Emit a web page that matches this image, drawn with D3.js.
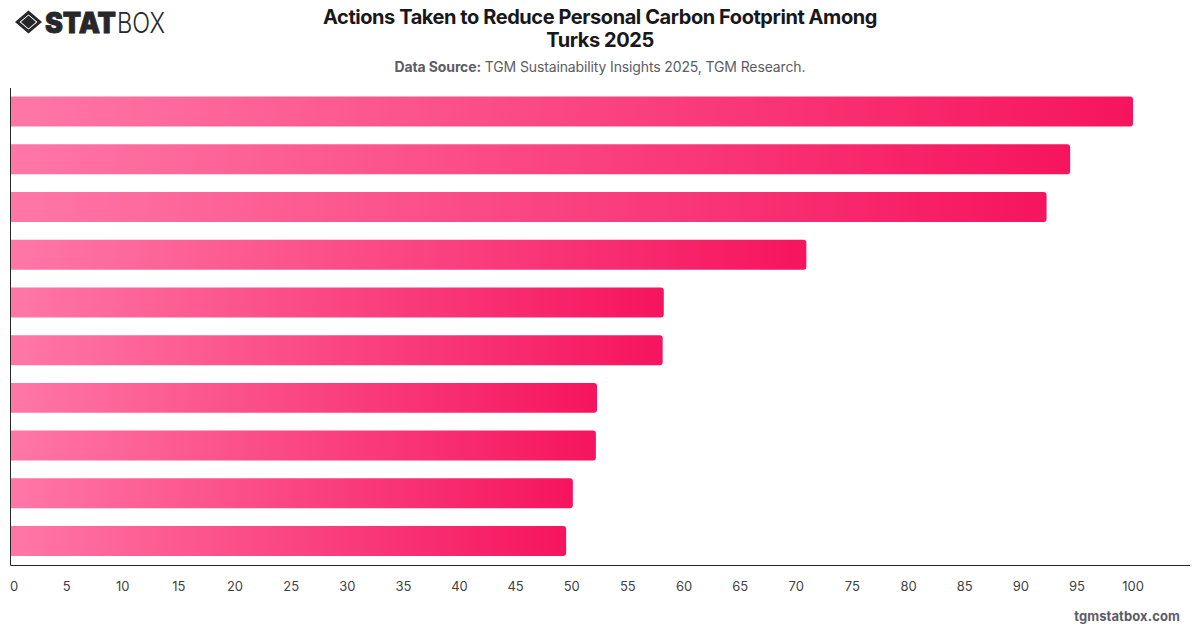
<!DOCTYPE html>
<html>
<head>
<meta charset="utf-8">
<script src="https://cdn.jsdelivr.net/npm/d3@7/dist/d3.min.js"></script>
<style>
  html, body { margin: 0; padding: 0; background: #fff; }
  svg { display: block; font-family: Inter, "Noto Sans", sans-serif; }
</style>
</head>
<body>
<svg id="chart" width="1200" height="628"></svg>
<script>
// Share of respondents per action, largest first. The categories carry no printed names.
const ranks = [1, 2, 3, 4, 5, 6, 7, 8, 9, 10];
const values = [100, 94.4, 92.3, 70.9, 58.2, 58.1, 52.25, 52.15, 50.1, 49.5];
const xTicks = d3.range(0, 101, 5);
const titleLines = ["Actions Taken to Reduce Personal Carbon Footprint Among", "Turks 2025"];
const sourceLabel = "Data Source:";
const sourceText = " TGM Sustainability Insights 2025, TGM Research.";
const siteLabel = "tgmstatbox.com";

const svg = d3.select("#chart");
const x = d3.scaleLinear().domain([0, 100]).range([10.5, 1133]);
const y = d3.scaleBand().domain(ranks).range([87.7, 564.9]).paddingInner(0.372).paddingOuter(0.186);

// Gradient stretched across each bar's own box
const defs = svg.append("defs");
const grad = defs.append("linearGradient").attr("id", "barFill")
  .attr("x1", "0%").attr("x2", "100%").attr("y1", "0%").attr("y2", "0%");
grad.append("stop").attr("offset", "0%").attr("stop-color", "#ff77a6");
grad.append("stop").attr("offset", "100%").attr("stop-color", "#f6145f");

// Bars: square on the baseline, slightly rounded at the value end
const barPath = (v, i) => {
  const x0 = x(0), x1 = x(v), y0 = y(ranks[i]), h = y.bandwidth(), r = 3;
  return `M${x0},${y0}H${x1 - r}Q${x1},${y0} ${x1},${y0 + r}V${y0 + h - r}Q${x1},${y0 + h} ${x1 - r},${y0 + h}H${x0}Z`;
};
svg.append("g").selectAll("path").data(values).join("path")
  .attr("d", barPath)
  .attr("fill", "url(#barFill)");

// Axes
const xAxis = d3.axisBottom(x).tickValues(xTicks).tickSize(0).tickPadding(17);
const gx = svg.append("g").attr("transform", "translate(0,565)").call(xAxis);
gx.select(".domain").remove();
gx.selectAll("text")
  .attr("font-size", 13).attr("font-family", "Inter, sans-serif").attr("fill", "#3f3f46")
  .attr("dx", d => d === 0 ? 3 : -0.5);

svg.append("line").attr("x1", 10.5).attr("x2", 1190).attr("y1", 565.5).attr("y2", 565.5)
  .attr("stroke", "#27272a").attr("stroke-width", 1);
svg.append("line").attr("x1", 10.5).attr("x2", 10.5).attr("y1", 88).attr("y2", 565.5)
  .attr("stroke", "#27272a").attr("stroke-width", 1);

// Heading
svg.append("g").selectAll("text").data(titleLines).join("text")
  .attr("x", 600).attr("y", (d, i) => 24 + i * 23)
  .attr("text-anchor", "middle").attr("font-size", 20).attr("font-weight", 700)
  .attr("letter-spacing", "-0.43").attr("fill", "#18181b").text(d => d);

const src = svg.append("text").attr("x", 600).attr("y", 72)
  .attr("text-anchor", "middle").attr("font-size", 14).attr("letter-spacing", "-0.13").attr("fill", "#5c5c66");
src.append("tspan").attr("font-weight", 700).text(sourceLabel);
src.append("tspan").text(sourceText);

svg.append("text").attr("x", 1180).attr("y", 621).attr("text-anchor", "end")
  .attr("font-size", 13).attr("font-weight", 700).attr("letter-spacing", "0.1")
  .attr("fill", "#5c5c66").text(siteLabel);

// Brand mark: nested diamonds with the wordmark beside them
const logo = svg.append("g").attr("fill", "#27272a");
logo.append("path").attr("fill-rule", "evenodd")
  .attr("d", "M28.5,10.5L42,22L28.5,33.5L15,22ZM28.5,14.5L19.5,22L28.5,29.5L37.5,22Z");
logo.append("path").attr("d", "M28.5,15.5L36,22L28.5,28.5L21,22Z");
logo.append("text").attr("x", 45).attr("y", 32.7).attr("font-size", 28).attr("font-weight", 900)
  .attr("stroke", "#27272a").attr("stroke-width", 0.8)
  .attr("textLength", 71).attr("lengthAdjust", "spacingAndGlyphs").text("STAT");
logo.append("text").attr("x", 117).attr("y", 32.7).attr("font-size", 28).attr("font-weight", 300)
  .attr("textLength", 48).attr("lengthAdjust", "spacingAndGlyphs").text("BOX");
</script>
</body>
</html>
